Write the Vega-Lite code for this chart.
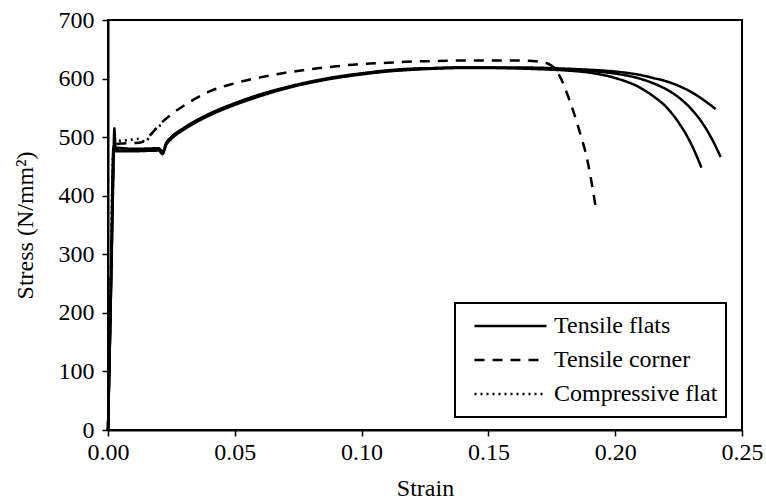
{
  "$schema": "https://vega.github.io/schema/vega-lite/v6.json",
  "width": 634,
  "height": 410,
  "autosize": {"type": "none"},
  "padding": {"left": 108, "top": 20, "right": 24, "bottom": 74},
  "background": "white",
  "config": {
    "font": "Liberation Serif",
    "view": {"stroke": "black", "strokeWidth": 2},
    "axis": {
      "grid": false,
      "domainColor": "black",
      "domainWidth": 2,
      "tickColor": "black",
      "tickWidth": 1.5,
      "tickSize": 6,
      "labelColor": "black",
      "labelFontSize": 24,
      "labelFont": "Liberation Serif",
      "titleFont": "Liberation Serif",
      "titleFontSize": 24,
      "titleFontWeight": "normal",
      "titleColor": "black"
    },
    "legend": {
      "labelFont": "Liberation Serif",
      "labelFontSize": 24,
      "labelColor": "black",
      "labelLimit": 400
    }
  },
  "data": {
    "values": [
      {"specimen": "F1", "type": "Tensile flats", "strain": 0, "stress": 0},
      {"specimen": "F1", "type": "Tensile flats", "strain": 0.0008, "stress": 160},
      {"specimen": "F1", "type": "Tensile flats", "strain": 0.0016, "stress": 330},
      {"specimen": "F1", "type": "Tensile flats", "strain": 0.0022, "stress": 470},
      {"specimen": "F1", "type": "Tensile flats", "strain": 0.0025, "stress": 515},
      {"specimen": "F1", "type": "Tensile flats", "strain": 0.003, "stress": 480},
      {"specimen": "F1", "type": "Tensile flats", "strain": 0.005, "stress": 477},
      {"specimen": "F1", "type": "Tensile flats", "strain": 0.01, "stress": 478},
      {"specimen": "F1", "type": "Tensile flats", "strain": 0.015, "stress": 479},
      {"specimen": "F1", "type": "Tensile flats", "strain": 0.02, "stress": 480},
      {"specimen": "F1", "type": "Tensile flats", "strain": 0.0215, "stress": 474},
      {"specimen": "F1", "type": "Tensile flats", "strain": 0.023, "stress": 490},
      {"specimen": "F1", "type": "Tensile flats", "strain": 0.025, "stress": 500},
      {"specimen": "F1", "type": "Tensile flats", "strain": 0.03, "stress": 515},
      {"specimen": "F1", "type": "Tensile flats", "strain": 0.035, "stress": 528},
      {"specimen": "F1", "type": "Tensile flats", "strain": 0.04, "stress": 539},
      {"specimen": "F1", "type": "Tensile flats", "strain": 0.05, "stress": 557},
      {"specimen": "F1", "type": "Tensile flats", "strain": 0.06, "stress": 572},
      {"specimen": "F1", "type": "Tensile flats", "strain": 0.07, "stress": 584},
      {"specimen": "F1", "type": "Tensile flats", "strain": 0.08, "stress": 594},
      {"specimen": "F1", "type": "Tensile flats", "strain": 0.09, "stress": 602},
      {"specimen": "F1", "type": "Tensile flats", "strain": 0.10, "stress": 608},
      {"specimen": "F1", "type": "Tensile flats", "strain": 0.11, "stress": 613},
      {"specimen": "F1", "type": "Tensile flats", "strain": 0.12, "stress": 616},
      {"specimen": "F1", "type": "Tensile flats", "strain": 0.13, "stress": 618},
      {"specimen": "F1", "type": "Tensile flats", "strain": 0.14, "stress": 619},
      {"specimen": "F1", "type": "Tensile flats", "strain": 0.15, "stress": 619},
      {"specimen": "F1", "type": "Tensile flats", "strain": 0.16, "stress": 619},
      {"specimen": "F1", "type": "Tensile flats", "strain": 0.17, "stress": 618.5},
      {"specimen": "F1", "type": "Tensile flats", "strain": 0.18, "stress": 617},
      {"specimen": "F1", "type": "Tensile flats", "strain": 0.19, "stress": 615},
      {"specimen": "F1", "type": "Tensile flats", "strain": 0.20, "stress": 612},
      {"specimen": "F1", "type": "Tensile flats", "strain": 0.21, "stress": 606},
      {"specimen": "F1", "type": "Tensile flats", "strain": 0.215, "stress": 601},
      {"specimen": "F1", "type": "Tensile flats", "strain": 0.22, "stress": 595.5},
      {"specimen": "F1", "type": "Tensile flats", "strain": 0.225, "stress": 587.6},
      {"specimen": "F1", "type": "Tensile flats", "strain": 0.23, "stress": 577},
      {"specimen": "F1", "type": "Tensile flats", "strain": 0.235, "stress": 563},
      {"specimen": "F1", "type": "Tensile flats", "strain": 0.2396, "stress": 548},

      {"specimen": "F2", "type": "Tensile flats", "strain": 0, "stress": 0},
      {"specimen": "F2", "type": "Tensile flats", "strain": 0.001, "stress": 200},
      {"specimen": "F2", "type": "Tensile flats", "strain": 0.002, "stress": 420},
      {"specimen": "F2", "type": "Tensile flats", "strain": 0.0023, "stress": 476},
      {"specimen": "F2", "type": "Tensile flats", "strain": 0.01, "stress": 476},
      {"specimen": "F2", "type": "Tensile flats", "strain": 0.02, "stress": 477},
      {"specimen": "F2", "type": "Tensile flats", "strain": 0.0215, "stress": 471},
      {"specimen": "F2", "type": "Tensile flats", "strain": 0.023, "stress": 487},
      {"specimen": "F2", "type": "Tensile flats", "strain": 0.025, "stress": 497},
      {"specimen": "F2", "type": "Tensile flats", "strain": 0.03, "stress": 513},
      {"specimen": "F2", "type": "Tensile flats", "strain": 0.04, "stress": 537},
      {"specimen": "F2", "type": "Tensile flats", "strain": 0.05, "stress": 555},
      {"specimen": "F2", "type": "Tensile flats", "strain": 0.06, "stress": 570},
      {"specimen": "F2", "type": "Tensile flats", "strain": 0.07, "stress": 583},
      {"specimen": "F2", "type": "Tensile flats", "strain": 0.08, "stress": 593},
      {"specimen": "F2", "type": "Tensile flats", "strain": 0.09, "stress": 601},
      {"specimen": "F2", "type": "Tensile flats", "strain": 0.10, "stress": 607},
      {"specimen": "F2", "type": "Tensile flats", "strain": 0.11, "stress": 612},
      {"specimen": "F2", "type": "Tensile flats", "strain": 0.12, "stress": 615},
      {"specimen": "F2", "type": "Tensile flats", "strain": 0.13, "stress": 617},
      {"specimen": "F2", "type": "Tensile flats", "strain": 0.14, "stress": 618},
      {"specimen": "F2", "type": "Tensile flats", "strain": 0.15, "stress": 618},
      {"specimen": "F2", "type": "Tensile flats", "strain": 0.16, "stress": 618},
      {"specimen": "F2", "type": "Tensile flats", "strain": 0.17, "stress": 617},
      {"specimen": "F2", "type": "Tensile flats", "strain": 0.18, "stress": 615.5},
      {"specimen": "F2", "type": "Tensile flats", "strain": 0.19, "stress": 613},
      {"specimen": "F2", "type": "Tensile flats", "strain": 0.20, "stress": 608.5},
      {"specimen": "F2", "type": "Tensile flats", "strain": 0.21, "stress": 599.5},
      {"specimen": "F2", "type": "Tensile flats", "strain": 0.215, "stress": 592},
      {"specimen": "F2", "type": "Tensile flats", "strain": 0.22, "stress": 582},
      {"specimen": "F2", "type": "Tensile flats", "strain": 0.225, "stress": 568},
      {"specimen": "F2", "type": "Tensile flats", "strain": 0.23, "stress": 548},
      {"specimen": "F2", "type": "Tensile flats", "strain": 0.235, "stress": 520},
      {"specimen": "F2", "type": "Tensile flats", "strain": 0.238, "stress": 498},
      {"specimen": "F2", "type": "Tensile flats", "strain": 0.2416, "stress": 466},

      {"specimen": "F3", "type": "Tensile flats", "strain": 0, "stress": 0},
      {"specimen": "F3", "type": "Tensile flats", "strain": 0.001, "stress": 210},
      {"specimen": "F3", "type": "Tensile flats", "strain": 0.0021, "stress": 480},
      {"specimen": "F3", "type": "Tensile flats", "strain": 0.0024, "stress": 482},
      {"specimen": "F3", "type": "Tensile flats", "strain": 0.01, "stress": 480},
      {"specimen": "F3", "type": "Tensile flats", "strain": 0.02, "stress": 481},
      {"specimen": "F3", "type": "Tensile flats", "strain": 0.0215, "stress": 475},
      {"specimen": "F3", "type": "Tensile flats", "strain": 0.023, "stress": 490},
      {"specimen": "F3", "type": "Tensile flats", "strain": 0.025, "stress": 500},
      {"specimen": "F3", "type": "Tensile flats", "strain": 0.03, "stress": 516},
      {"specimen": "F3", "type": "Tensile flats", "strain": 0.04, "stress": 540},
      {"specimen": "F3", "type": "Tensile flats", "strain": 0.05, "stress": 558},
      {"specimen": "F3", "type": "Tensile flats", "strain": 0.06, "stress": 573},
      {"specimen": "F3", "type": "Tensile flats", "strain": 0.07, "stress": 585},
      {"specimen": "F3", "type": "Tensile flats", "strain": 0.08, "stress": 595},
      {"specimen": "F3", "type": "Tensile flats", "strain": 0.09, "stress": 603},
      {"specimen": "F3", "type": "Tensile flats", "strain": 0.10, "stress": 609},
      {"specimen": "F3", "type": "Tensile flats", "strain": 0.11, "stress": 614},
      {"specimen": "F3", "type": "Tensile flats", "strain": 0.12, "stress": 617},
      {"specimen": "F3", "type": "Tensile flats", "strain": 0.13, "stress": 618},
      {"specimen": "F3", "type": "Tensile flats", "strain": 0.14, "stress": 619},
      {"specimen": "F3", "type": "Tensile flats", "strain": 0.15, "stress": 618.5},
      {"specimen": "F3", "type": "Tensile flats", "strain": 0.16, "stress": 617.5},
      {"specimen": "F3", "type": "Tensile flats", "strain": 0.17, "stress": 616},
      {"specimen": "F3", "type": "Tensile flats", "strain": 0.18, "stress": 614},
      {"specimen": "F3", "type": "Tensile flats", "strain": 0.19, "stress": 610},
      {"specimen": "F3", "type": "Tensile flats", "strain": 0.20, "stress": 601},
      {"specimen": "F3", "type": "Tensile flats", "strain": 0.21, "stress": 584},
      {"specimen": "F3", "type": "Tensile flats", "strain": 0.215, "stress": 570},
      {"specimen": "F3", "type": "Tensile flats", "strain": 0.22, "stress": 552},
      {"specimen": "F3", "type": "Tensile flats", "strain": 0.225, "stress": 525},
      {"specimen": "F3", "type": "Tensile flats", "strain": 0.23, "stress": 488},
      {"specimen": "F3", "type": "Tensile flats", "strain": 0.232, "stress": 469},
      {"specimen": "F3", "type": "Tensile flats", "strain": 0.234, "stress": 448},

      {"specimen": "C1", "type": "Tensile corner", "strain": 0, "stress": 0},
      {"specimen": "C1", "type": "Tensile corner", "strain": 0.001, "stress": 220},
      {"specimen": "C1", "type": "Tensile corner", "strain": 0.002, "stress": 440},
      {"specimen": "C1", "type": "Tensile corner", "strain": 0.0025, "stress": 488},
      {"specimen": "C1", "type": "Tensile corner", "strain": 0.005, "stress": 489},
      {"specimen": "C1", "type": "Tensile corner", "strain": 0.01, "stress": 490},
      {"specimen": "C1", "type": "Tensile corner", "strain": 0.013, "stress": 491},
      {"specimen": "C1", "type": "Tensile corner", "strain": 0.015, "stress": 497},
      {"specimen": "C1", "type": "Tensile corner", "strain": 0.018, "stress": 510},
      {"specimen": "C1", "type": "Tensile corner", "strain": 0.02, "stress": 520},
      {"specimen": "C1", "type": "Tensile corner", "strain": 0.025, "stress": 539},
      {"specimen": "C1", "type": "Tensile corner", "strain": 0.03, "stress": 554},
      {"specimen": "C1", "type": "Tensile corner", "strain": 0.035, "stress": 567},
      {"specimen": "C1", "type": "Tensile corner", "strain": 0.04, "stress": 578},
      {"specimen": "C1", "type": "Tensile corner", "strain": 0.05, "stress": 592},
      {"specimen": "C1", "type": "Tensile corner", "strain": 0.06, "stress": 602},
      {"specimen": "C1", "type": "Tensile corner", "strain": 0.07, "stress": 610},
      {"specimen": "C1", "type": "Tensile corner", "strain": 0.08, "stress": 616},
      {"specimen": "C1", "type": "Tensile corner", "strain": 0.09, "stress": 621},
      {"specimen": "C1", "type": "Tensile corner", "strain": 0.10, "stress": 625},
      {"specimen": "C1", "type": "Tensile corner", "strain": 0.11, "stress": 627},
      {"specimen": "C1", "type": "Tensile corner", "strain": 0.12, "stress": 629},
      {"specimen": "C1", "type": "Tensile corner", "strain": 0.13, "stress": 630},
      {"specimen": "C1", "type": "Tensile corner", "strain": 0.14, "stress": 631},
      {"specimen": "C1", "type": "Tensile corner", "strain": 0.15, "stress": 631},
      {"specimen": "C1", "type": "Tensile corner", "strain": 0.16, "stress": 631},
      {"specimen": "C1", "type": "Tensile corner", "strain": 0.17, "stress": 629},
      {"specimen": "C1", "type": "Tensile corner", "strain": 0.175, "stress": 622},
      {"specimen": "C1", "type": "Tensile corner", "strain": 0.178, "stress": 605},
      {"specimen": "C1", "type": "Tensile corner", "strain": 0.182, "stress": 563},
      {"specimen": "C1", "type": "Tensile corner", "strain": 0.1858, "stress": 512},
      {"specimen": "C1", "type": "Tensile corner", "strain": 0.189, "stress": 461},
      {"specimen": "C1", "type": "Tensile corner", "strain": 0.191, "stress": 415},
      {"specimen": "C1", "type": "Tensile corner", "strain": 0.1926, "stress": 372},

      {"specimen": "P1", "type": "Compressive flat", "strain": 0, "stress": 0},
      {"specimen": "P1", "type": "Compressive flat", "strain": 0.001, "stress": 230},
      {"specimen": "P1", "type": "Compressive flat", "strain": 0.002, "stress": 470},
      {"specimen": "P1", "type": "Compressive flat", "strain": 0.0028, "stress": 495},
      {"specimen": "P1", "type": "Compressive flat", "strain": 0.005, "stress": 494},
      {"specimen": "P1", "type": "Compressive flat", "strain": 0.008, "stress": 495},
      {"specimen": "P1", "type": "Compressive flat", "strain": 0.012, "stress": 497},
      {"specimen": "P1", "type": "Compressive flat", "strain": 0.0146, "stress": 492},
      {"specimen": "P1", "type": "Compressive flat", "strain": 0.017, "stress": 505},
      {"specimen": "P1", "type": "Compressive flat", "strain": 0.019, "stress": 515},
      {"specimen": "P1", "type": "Compressive flat", "strain": 0.021, "stress": 521}
    ]
  },
  "mark": {"type": "line", "color": "black", "strokeWidth": 2.5, "interpolate": "monotone"},
  "encoding": {
    "x": {
      "field": "strain",
      "type": "quantitative",
      "scale": {"domain": [0, 0.25], "nice": false},
      "axis": {"values": [0, 0.05, 0.1, 0.15, 0.2, 0.25], "format": ".2f", "title": "Strain", "labelPadding": 4, "titlePadding": 12, "labelFlush": false}
    },
    "y": {
      "field": "stress",
      "type": "quantitative",
      "scale": {"domain": [0, 700], "nice": false},
      "axis": {"values": [0, 100, 200, 300, 400, 500, 600, 700], "title": "Stress (N/mm²)", "labelPadding": 8, "titlePadding": 21, "labelFlush": false}
    },
    "detail": {"field": "specimen"},
    "strokeDash": {
      "field": "type",
      "type": "nominal",
      "scale": {"domain": ["Tensile flats", "Tensile corner", "Compressive flat"], "range": [[1, 0], [10, 8], [2, 4]]},
      "legend": {
        "title": null,
        "orient": "none",
        "legendX": 347,
        "legendY": 283,
        "strokeColor": "black",
        "fillColor": "white",
        "padding": 8,
        "symbolType": "stroke",
        "symbolSize": 5184,
        "symbolStrokeColor": "black",
        "symbolStrokeWidth": 2.5,
        "symbolOffset": 10,
        "clipHeight": 30,
        "rowPadding": 4,
        "labelOffset": 6,
        "encode": {"legend": {"update": {"strokeWidth": {"value": 2}}}}
      }
    }
  }
}
